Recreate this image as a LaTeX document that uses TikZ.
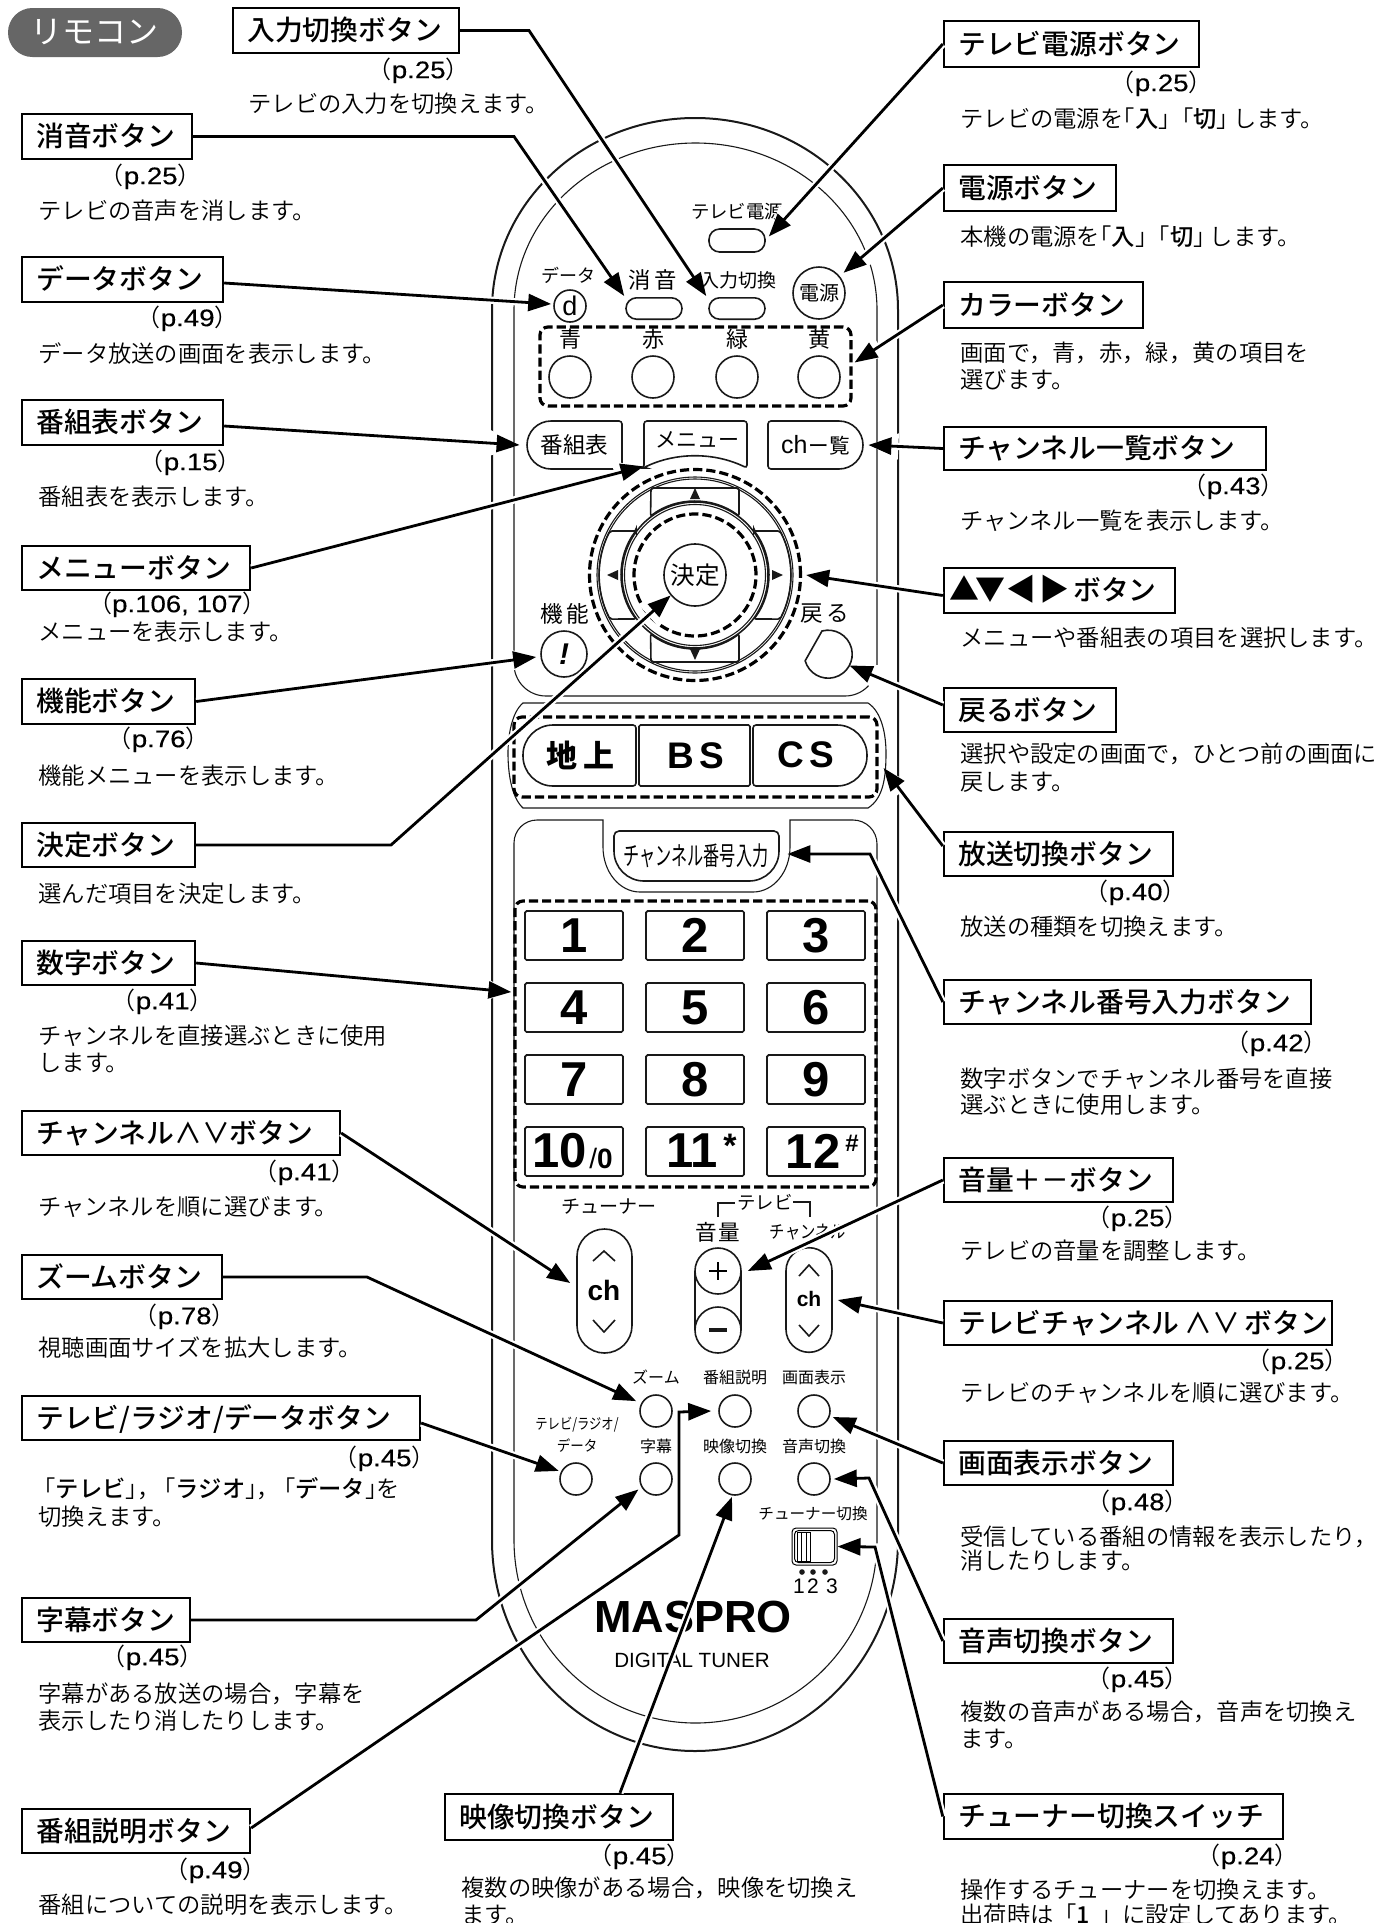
\documentclass[tikz,border=0pt]{standalone}
\usepackage{fontspec}
\usetikzlibrary{arrows.meta,calc}
\setmainfont{Noto Sans CJK JP}
\newfontfamily\jpf{Noto Sans CJK JP}
\newfontfamily\jplt{Noto Sans CJK JP DemiLight}
\newfontfamily\jpm{Noto Sans CJK JP Medium}
\newfontfamily\libf{Liberation Sans}
\newfontfamily\prf[FakeBold=.3,FakeStretch=1.15]{Liberation Sans}
\newcommand\fsz[1]{\fontsize{#1}{#1}\selectfont}
\newcommand\bbt[1]{{\jpm #1}}
\newcommand\parl{\kern-7pt{\jplt （}}
\newcommand\parr{{\jplt ）}\kern-7pt}
\newcommand\hbx[6]{%
  \node[lbox,minimum width={(#4-#2)*.5pt},minimum height={(#5-#3)*.5pt}] (#1) at ({(#2+#4)/2},{(#3+#5)/2}) {};
  \node[ltxt,anchor=west] (#1t) at ([xshift=7.5pt]#1.west) {#6};}
\newcommand\pgr[4]{\node[ptxt,anchor=east] (#1p) at (#2,#3) {\parl p.#4\parr};}
\newcommand\btx[4]{\node[dtxt,anchor=west] (#1) at (#2,#3) {#4};}
\tikzset{
 lbox/.style={draw,line width=1.2pt,inner sep=0pt,fill=white},
 ltxt/.style={inner sep=0pt,font=\jpm\fsz{13.9},text height=12pt,text depth=1.7pt},
 ptxt/.style={inner sep=0pt,font=\prf\fsz{12},text height=8.6pt,text depth=2.4pt},
 dtxt/.style={inner sep=0pt,font=\jplt\fsz{11.65},text height=10pt,text depth=1.4pt},
 lead/.style={line width=1.4pt,-{Triangle[length=11.5pt,width=8.5pt]},
   preaction={draw=white,line width=3.6pt,arrows=-{Triangle[length=15pt,width=12pt]}}},
 bl/.style={line width=.8pt,draw=black!90},
 thin1/.style={line width=.55pt,draw=black!90},
 outerl/.style={line width=1pt,draw=black!90},
 btnc/.style={circle,bl,draw,inner sep=0pt},
 pill/.style={rectangle,bl,draw,inner sep=0pt,rounded corners=5.3pt,minimum width=28pt,minimum height=10.7pt},
 hit/.style={rectangle,inner sep=0pt},
 dashb/.style={line width=1.6pt,draw,dash pattern=on 4.6pt off 2pt,rounded corners=4pt,inner sep=0pt},
 key/.style={rectangle,bl,draw,inner sep=0pt,rounded corners=.8pt,minimum width=49pt,minimum height=24.5pt},
 numk/.style={inner sep=0pt,font=\libf\bfseries\fsz{24.5}},
 rl/.style={inner sep=0pt,font=\jpf},
 tri/.style={fill=black!90,draw=none},
}
\begin{document}
\begin{tikzpicture}[x=.5pt,y=-.5pt]
\useasboundingbox (0,0) rectangle (1393,1923);
\fill[white] (0,0) rectangle (1393,1923);
% --- remote body
\draw[outerl] (492,310) arc[start angle=180,end angle=360,x radius=203,y radius=192] -- (898,1540) arc[start angle=0,end angle=180,x radius=203,y radius=211] -- cycle;
\draw[thin1] (514,664) -- (514,310) arc[start angle=180,end angle=360,x radius=181.5,y radius=167] -- (877,664) arc[start angle=0,end angle=90,radius=32] -- (546,696) arc[start angle=90,end angle=180,radius=32];
\draw[thin1] (523,703) -- (868,703) .. controls (882,712) and (886,735) .. (886,753) .. controls (886,775) and (884,798) .. (868,808) -- (523,808) .. controls (512,798) and (508,775) .. (508,753) .. controls (508,735) and (512,712) .. (523,703) -- cycle;
\draw[thin1] (514,1540) -- (514,843) arc[start angle=180,end angle=270,radius=23] -- (603,820) -- (603,847) arc[start angle=180,end angle=90,x radius=37,y radius=45] -- (753,892) arc[start angle=90,end angle=0,x radius=37,y radius=45] -- (790,820) -- (853,820) arc[start angle=270,end angle=360,radius=24] -- (877,1540) arc[start angle=0,end angle=180,x radius=181.5,y radius=183];
% top buttons
\node[rl,font=\jpf\fsz{9}] (ldata) at (568,275) {データ};
\node[btnc,minimum size=16pt] (bd) at (570,306) {\libf\fsz{13.5}d};
\node[rl,font=\jpf\fsz{11.2}] (lmute) at (653,280) {消\kern2pt 音};
\node[pill] (bmute) at (654,308.5) {};
\node[rl,font=\jpf\fsz{9.5}] (linp) at (738,280) {入力切換};
\node[pill] (binp) at (737,308.5) {};
\node[rl,font=\jpf\fsz{9.2}] (ltvp) at (737,212) {テレビ電源};
\node[pill,minimum height=11.5pt] (btvp) at (737,240.5) {};
\node[btnc,minimum size=26pt] (bpow) at (819,293) {\jpf\fsz{10}電源};
% colour
\node[dashb,minimum width=155.5pt,minimum height=39.5pt] (gcol) at (695.5,366.5) {};
\foreach \n/\t/\x in {a/青/570,b/赤/653,c/緑/737,d/黄/819}{
  \node[rl,font=\jpf\fsz{11}] (lc\n) at (\x,339) {\t};
  \node[btnc,minimum size=21pt] (bc\n) at (\x,377) {};
}
% menu row
\node[hit,minimum width=47.5pt,minimum height=24pt] (bprog) at (574.5,445) {\jpf\fsz{11.3}番組表};
\draw[bl] [rounded corners=1.5pt] (575,469) -- (622,469) -- (622,421) [rounded corners=12pt] -- (527,421) -- (527,469) -- (575,469);
\node[hit,minimum width=51.5pt,minimum height=22.5pt] (bmenu) at (695.5,443.5) {};
\node[rl,font=\jpf\fsz{10.5}] (tmenu) at (697,440) {メニュー};
\draw[bl,rounded corners=1.5pt] (644,468) -- (644,421) -- (747,421) -- (747,468) arc[start angle=-64.1,end angle=-115.9,radius=119] -- cycle;
\node[hit,minimum width=47.5pt,minimum height=24pt] (bch) at (815.5,445) {\libf\fsz{12.5}ch\jpf\kern.5pt\fsz{10.3}ー覧};
\draw[bl] [rounded corners=1.5pt] (815,469) -- (768,469) -- (768,421) [rounded corners=12pt] -- (863,421) -- (863,469) -- (815,469);
% dpad
\node[circle,draw,line width=1.6pt,dash pattern=on 4.6pt off 2pt,inner sep=0,minimum size=105.5pt] (gpad) at (695,575) {};
\node[circle,thin1,draw,inner sep=0,minimum size=98pt] (rpad1) at (695,575) {};
\draw[thin1] (695,575) circle[radius=96];
\draw[bl] (695,575) circle[radius=73];
\draw[thin1] (695,575) circle[radius=70.5];
\node[circle,draw,line width=1.6pt,dash pattern=on 4.6pt off 2pt,inner sep=0,minimum size=61pt] (gok) at (695,575) {};
\node[btnc,minimum size=31pt] (bok) at (695,575) {\jpf\fsz{12.3}決定};
\draw[bl,rounded corners=1pt] (651,488) -- (739,488) -- (739,516) arc[start angle=-53.3,end angle=-126.7,radius=74] -- cycle;
\draw[bl,rounded corners=1pt] (651,662) -- (739,662) -- (739,634) arc[start angle=53.3,end angle=126.7,radius=74] -- cycle;
\draw[bl,rounded corners=1pt] (636,531) -- (610,531) arc[start angle=207.3,end angle=152.7,radius=96] -- (636,619) arc[start angle=143.3,end angle=216.7,radius=74] -- cycle;
\draw[bl,rounded corners=1pt] (754,531) -- (780,531) arc[start angle=-27.3,end angle=27.3,radius=96] -- (754,619) arc[start angle=36.7,end angle=-36.7,radius=74] -- cycle;
\fill[tri] (695,488) -- (700,499) -- (690,499) -- cycle;
\fill[tri] (695,660) -- (700,649) -- (690,649) -- cycle;
\fill[tri] (607,575) -- (618,570) -- (618,580) -- cycle;
\fill[tri] (783,575) -- (772,570) -- (772,580) -- cycle;
% func / back
\node[rl,font=\jpf\fsz{11.3}] (lfunc) at (565,614) {機\kern2pt 能};
\node[btnc,minimum size=23pt] (bfunc) at (564,654) {\libf\bfseries\itshape\fsz{15}!};
\node[rl,font=\jpf\fsz{11.3}] (lback) at (825,614) {戻\kern2pt る};
\node[hit,circle,minimum size=24pt] (bback) at (828,654) {};
\draw[bl] (822,631) arc[start angle=255,end angle=524,radius=24] -- cycle;
% broadcast
\node[dashb,minimum width=181.5pt,minimum height=40pt] (gbc) at (695.5,757) {};
\node[hit,minimum width=56pt,minimum height=30.5pt] (b1t) at (580.5,755.5) {\jpf\bfseries\fsz{15.5}地\kern3pt 上};
\draw[bl] [rounded corners=1.5pt] (580,786) -- (636,786) -- (636,725) [rounded corners=15pt] -- (523,725) -- (523,786) -- (580,786);
\node[key,minimum width=55.5pt,minimum height=30.5pt] (b2t) at (694.5,755.5) {\libf\bfseries\fsz{18.5}\kern1pt B\kern2.5pt S};
\node[hit,minimum width=57pt,minimum height=30.5pt] (b3t) at (810,755.5) {};
\node[rl,font=\libf\bfseries\fsz{18.5}] (b3l) at (806,755) {C\kern2.5pt S};
\draw[bl] [rounded corners=1.5pt] (810,786) -- (753,786) -- (753,725) [rounded corners=15pt] -- (867,725) -- (867,786) -- (810,786);
% ch number input
\node[hit,minimum width=82.5pt,minimum height=25pt] (bcni) at (696.5,856) {};
\node[rl,font=\jpf\fsz{13},xscale=.62,transform shape] (tcni) at (696,856) {チャンネル番号入力};
\draw[bl] (614,836) arc[start angle=180,end angle=270,radius=5] -- (774,831) arc[start angle=270,end angle=360,radius=5] -- (779,851) arc[start angle=0,end angle=90,x radius=30,y radius=30] -- (644,881) arc[start angle=90,end angle=180,x radius=30,y radius=30] -- cycle;
% number keys
\node[dashb,minimum width=180.5pt,minimum height=143pt] (gnum) at (695.5,1044) {};
\foreach \r/\y/\a/\b/\c in {1/935.5/1/2/3,2/1007.5/4/5/6,3/1079.5/7/8/9}{
  \node[key] (k\r a) at (574,\y) {};
  \node[key] (k\r b) at (695,\y) {};
  \node[key] (k\r c) at (816,\y) {};
  \node[numk] (n\r a) at (574,\y) {\a};
  \node[numk] (n\r b) at (695,\y) {\b};
  \node[numk] (n\r c) at (816,\y) {\c};
}
\node[key] (k4a) at (574,1151.5) {};
\node[key] (k4b) at (695,1151.5) {};
\node[key] (k4c) at (816,1151.5) {};
\node[numk] (n4a) at (560,1151) {10};
\node[inner sep=0,font=\libf\fsz{14}] (n4a2) at (601,1158) {/\libf\bfseries 0};
\node[numk] (n4b) at (692,1151) {11};
\node[inner sep=0,font=\libf\bfseries\fsz{17}] (n4b2) at (730,1146) {*};
\node[numk] (n4c) at (813,1151) {12};
\node[inner sep=0,font=\libf\bfseries\fsz{12}] (n4c2) at (852,1143) {\#};
% tuner / tv labels
\node[rl,font=\jpf\fsz{9.5}] (ltun) at (609,1207) {チューナー};
\node[rl,font=\jpf\fsz{9.2}] (ltv) at (765,1202) {テレビ};
\draw[bl,line width=1pt] (718,1217) -- (718,1203) -- (735,1203);
\draw[bl,line width=1pt] (793,1202) -- (810,1202) -- (810,1217);
\node[rl,font=\jpf\fsz{10.8}] (lvol) at (718,1232) {音\kern1pt 量};
\node[rl,font=\jpf\fsz{9},xscale=.85,transform shape] (ltch) at (808,1232) {チャンネル};
% tuner ch
\node[pill,rounded corners=13.7pt,minimum width=27.5pt,minimum height=62pt] (btch) at (604.5,1291) {};
\node[rl,font=\libf\bfseries\fsz{14}] (ttch) at (604,1290) {ch};
\draw[bl] (593,1261) -- (604,1251) -- (615,1261);
\draw[bl] (593,1320) -- (604,1332) -- (615,1320);
% volume
\draw[bl] (695,1271) -- (695,1330);
\draw[bl] (741,1271) -- (741,1330);
\node[btnc,fill=white,minimum size=23pt] (bvp) at (718,1271) {};
\node[btnc,fill=white,minimum size=23pt] (bvm) at (718,1330) {};
\draw[line width=1pt] (709,1271) -- (727,1271) (718,1262) -- (718,1280);
\fill[black!90] (709,1328) rectangle (727,1332);
% tv ch
\node[pill,rounded corners=11.5pt,minimum width=23pt,minimum height=52.3pt] (btvc) at (809,1300) {};
\node[rl,font=\libf\bfseries\fsz{10.5}] (ttvc) at (809,1299) {ch};
\draw[bl] (799,1276) -- (809,1265) -- (819,1276);
\draw[bl] (799,1325) -- (809,1336) -- (819,1325);
% small buttons
\node[rl,font=\jpf\fsz{8}] (l1) at (656,1377) {ズーム};
\node[rl,font=\jpf\fsz{8}] (l2) at (735,1377) {番組説明};
\node[rl,font=\jpf\fsz{8}] (l3) at (814,1377) {画面表示};
\node[rl,font=\jpf\fsz{8}] (l4) at (656,1446) {字幕};
\node[rl,font=\jpf\fsz{8}] (l5) at (735,1446) {映像切換};
\node[rl,font=\jpf\fsz{8}] (l6) at (814,1446) {音声切換};
\node[rl,font=\jpf\fsz{7.5},xscale=.82,transform shape] (l7) at (577,1425) {テレビ/ラジオ/};
\node[rl,font=\jpf\fsz{7.5},xscale=.9,transform shape] (l8) at (577,1446) {データ};
\node[btnc,minimum size=16pt] (bzoom) at (656,1411) {};
\node[btnc,minimum size=16pt] (bdesc) at (735,1411) {};
\node[btnc,minimum size=16pt] (bdisp) at (814,1411) {};
\node[btnc,minimum size=16pt] (bradio) at (576,1479) {};
\node[btnc,minimum size=16pt] (bsub) at (656,1479) {};
\node[btnc,minimum size=16pt] (bvid) at (735,1479) {};
\node[btnc,minimum size=16pt] (baud) at (814,1479) {};
% switch
\node[rl,font=\jpf\fsz{7.8}] (lsw) at (813,1514) {チューナー切換};
\node[rectangle,draw,line width=.5pt,rounded corners=2pt,inner sep=0,minimum width=22.5pt,minimum height=18.5pt] (bsw) at (814.5,1546.5) {};
\draw[line width=.5pt,rounded corners=2pt] (794.5,1530.5) rectangle (834.5,1562.5);
\draw[line width=.5pt] (797,1532) rectangle (810,1561) (801,1532) -- (801,1561) (806,1532) -- (806,1561);
\fill[black!90] (802,1572) circle[radius=2.8] (813,1572) circle[radius=2.8] (825,1572) circle[radius=2.8];
\node[rl,font=\libf\fsz{10.5}] (n1) at (799,1586) {1};
\node[rl,font=\libf\fsz{10.5}] (n2) at (813,1586) {2};
\node[rl,font=\libf\fsz{10.5}] (n3) at (832,1586) {3};
% logo
\node[rl,font=\libf\bfseries\fsz{22.5}] (logo) at (693,1617) {MASPRO};
\node[rl,font=\libf\fsz{10.3}] (dtun) at (692,1660) {DIGITAL TUNER};
% --- heading pill
\node[fill=black!60,rounded corners=12.2pt,minimum width=87pt,minimum height=24.5pt,inner sep=0,font=\jpf\fsz{16},text=white] (title) at (95,32.5) {リモコン};
% --- left labels
\hbx{aInp}{233}{8}{459}{53}{入力切換ボタン}
\pgr{aInp}{456}{72}{25}
\btx{aInpb}{248}{104}{テレビの入力を切換えます。}
\hbx{aMute}{22}{114}{192}{159}{消音ボタン}
\pgr{aMute}{188}{178}{25}
\btx{aMuteb}{38}{211}{テレビの音声を消します。}
\hbx{aData}{22}{257}{223}{302}{データボタン}
\pgr{aData}{225}{320}{49}
\btx{aDatab}{38}{354}{データ放送の画面を表示します。}
\hbx{aProg}{22}{400}{223}{445}{番組表ボタン}
\pgr{aProg}{228}{464}{15}
\btx{aProgb}{38}{497}{番組表を表示します。}
\hbx{aMenu}{22}{546}{250}{590}{メニューボタン}
\node[ptxt,anchor=east] (aMenup) at (253,606) {\parl p.106, 107\parr};
\btx{aMenub}{38}{632}{メニューを表示します。}
\hbx{aFunc}{22}{679}{195}{724}{機能ボタン}
\pgr{aFunc}{196}{741}{76}
\btx{aFuncb}{38}{776}{機能メニューを表示します。}
\hbx{aOk}{22}{823}{195}{867}{決定ボタン}
\btx{aOkb}{38}{894}{選んだ項目を決定します。}
\hbx{aNum}{22}{941}{195}{985}{数字ボタン}
\pgr{aNum}{200}{1003}{41}
\btx{aNumb}{38}{1036}{チャンネルを直接選ぶときに使用}
\btx{aNumc}{38}{1063}{します。}
\hbx{aCh}{22}{1111}{340}{1155}{チャンネル∧∨ボタン}
\pgr{aCh}{342}{1174}{41}
\btx{aChb}{38}{1207}{チャンネルを順に選びます。}
\hbx{aZoom}{22}{1255}{222}{1299}{ズームボタン}
\pgr{aZoom}{222}{1318}{78}
\btx{aZoomb}{38}{1348}{視聴画面サイズを拡大します。}
\hbx{aTrd}{22}{1396}{420}{1440}{テレビ/ラジオ/データボタン}
\pgr{aTrd}{422}{1460}{45}
\btx{aTrdb}{38}{1489}{\kern-.25em「\bbt{テレビ}」\kern-.5em，\kern-.35em「\bbt{ラジオ}」\kern-.5em，\kern-.35em「\bbt{データ}」\kern-.5em を}
\btx{aTrdc}{38}{1517}{切換えます。}
\hbx{aSub}{22}{1598}{190}{1642}{字幕ボタン}
\pgr{aSub}{190}{1659}{45}
\btx{aSubb}{38}{1694}{字幕がある放送の場合，字幕を}
\btx{aSubc}{38}{1721}{表示したり消したりします。}
\hbx{aDesc}{22}{1809}{250}{1853}{番組説明ボタン}
\pgr{aDesc}{253}{1872}{49}
\btx{aDescb}{38}{1905}{番組についての説明を表示します。}
\hbx{aVid}{445}{1794}{673}{1840}{映像切換ボタン}
\pgr{aVid}{677}{1858}{45}
\btx{aVidb}{461}{1888}{複数の映像がある場合，映像を切換え}
\btx{aVidc}{461}{1915}{ます。}
% --- right labels
\hbx{cTv}{944}{21}{1199}{67}{テレビ電源ボタン}
\pgr{cTv}{1199}{85}{25}
\btx{cTvb}{960}{119}{テレビの電源を\kern-.5em「\bbt{入}」\kern-.5em「\bbt{切}」\kern-.3em します。}
\hbx{cPow}{944}{165}{1116}{211}{電源ボタン}
\btx{cPowb}{960}{237}{本機の電源を\kern-.5em「\bbt{入}」\kern-.5em「\bbt{切}」\kern-.3em します。}
\hbx{cCol}{944}{282}{1143}{328}{カラーボタン}
\btx{cColb}{960}{353}{画面で，青，赤，緑，黄の項目を}
\btx{cColc}{960}{380}{選びます。}
\hbx{cList}{944}{427}{1266}{470}{チャンネル一覧ボタン}
\pgr{cList}{1271}{488}{43}
\btx{cListb}{960}{521}{チャンネル一覧を表示します。}
\hbx{cArr}{944}{568}{1175}{613}{\kern-4.5pt{\jpm\bfseries\fsz{15}▲\kern-2pt▼\kern.5pt◀\kern1.5pt▶}\kern2pt ボタン}
\btx{cArrb}{960}{638}{メニューや番組表の項目を選択します。}
\hbx{cBack}{944}{688}{1116}{732}{戻るボタン}
\btx{cBackb}{960}{754}{選択や設定の画面で，ひとつ前の画面に}
\btx{cBackc}{960}{782}{戻します。}
\hbx{cBc}{944}{832}{1173}{876}{放送切換ボタン}
\pgr{cBc}{1173}{894}{40}
\btx{cBcb}{960}{927}{放送の種類を切換えます。}
\hbx{cCni}{944}{980}{1311}{1024}{チャンネル番号入力ボタン}
\pgr{cCni}{1314}{1045}{42}
\btx{cCnib}{960}{1079}{数字ボタンでチャンネル番号を直接}
\btx{cCnic}{960}{1105}{選ぶときに使用します。}
\hbx{cVol}{944}{1158}{1173}{1202}{音量＋－ボタン}
\pgr{cVol}{1175}{1220}{25}
\btx{cVolb}{960}{1251}{テレビの音量を調整します。}
\hbx{cTvc}{944}{1301}{1332}{1345}{テレビチャンネル\,∧∨\,ボタン}
\pgr{cTvc}{1335}{1363}{25}
\btx{cTvcb}{960}{1393}{テレビのチャンネルを順に選びます。}
\hbx{cDisp}{944}{1441}{1173}{1485}{画面表示ボタン}
\pgr{cDisp}{1175}{1504}{48}
\btx{cDispb}{960}{1537}{受信している番組の情報を表示したり，}
\btx{cDispc}{960}{1561}{消したりします。}
\hbx{cAud}{944}{1619}{1173}{1663}{音声切換ボタン}
\pgr{cAud}{1175}{1681}{45}
\btx{cAudb}{960}{1712}{複数の音声がある場合，音声を切換え}
\btx{cAudc}{960}{1739}{ます。}
\hbx{cSw}{944}{1794}{1283}{1839}{チューナー切換スイッチ}
\pgr{cSw}{1285}{1858}{24}
\btx{cSwb}{960}{1890}{操作するチューナーを切換えます。}
\btx{cSwc}{960}{1915}{出荷時は「\bbt{1}\kern.38em」に設定してあります。}
% --- bends
\coordinate (kInp) at (529,30.5);
\coordinate (kMute) at (514,136.5);
\coordinate (kOk) at (391,845);
\coordinate (kZoom) at (367,1277);
\coordinate (kSub) at (476,1620);
\coordinate (kDesc1) at (679,1535);
\coordinate (kDesc2) at (679,1412);
\coordinate (kCni) at (870,854);
\coordinate (kAud) at (869,1478);
\coordinate (kSw) at (875,1547);
% --- leaders
\draw[lead] (aInp.east) -- (kInp) -- ([shift={(-1pt,.5pt)}]binp.north west);
\draw[lead] (aMute.east) -- (kMute) -- ([shift={(-.5pt,.5pt)}]bmute.north west);
\draw[lead] ([yshift=-1.75pt]aData.east) -- ([shift={(-1pt,1pt)}]bd.west);
\draw[lead] ([yshift=-1.75pt]aProg.east) -- ([xshift=-3.5pt]bprog.west);
\draw[lead] (aMenu.east) -- (bmenu.south west);
\draw[lead] (aFunc.east) -- ([shift={(-2pt,-1.5pt)}]bfunc.west);
\draw[lead] (aOk.east) -- (kOk) -- (bok.220);
\draw[lead] (aNum.east) -- ([shift={(-1pt,26pt)}]gnum.west);
\draw[lead] (aCh.east) -- ([shift={(-3pt,4pt)}]btch.west);
\draw[lead] (aZoom.east) -- (kZoom) -- ([shift={(-2.5pt,1pt)}]bzoom.152);
\draw[lead] ([yshift=-2.5pt]aTrd.east) -- ([shift={(-1pt,.5pt)}]bradio.155);
\draw[lead] (aSub.east) -- (kSub) -- ([shift={(-1.5pt,-1pt)}]bsub.210);
\draw[lead] ([yshift=1.5pt]aDesc.east) -- (kDesc1) -- (kDesc2) -- ([xshift=-3.5pt]bdesc.west);
\draw[lead] ([xshift=30.5pt]aVid.north) -- ([shift={(-1.5pt,-.5pt)}]bvid.south);
\draw[lead] (cTv.west) -- ([shift={(1.5pt,2pt)}]btvp.east);
\draw[lead] (cPow.west) -- ([shift={(2pt,1.5pt)}]bpow.40);
\draw[lead] (cCol.west) -- ([shift={(1pt,2pt)}]gcol.east);
\draw[lead] (cList.west) -- ([xshift=2.5pt]bch.east);
\draw[lead] ([yshift=-2.5pt]cArr.west) -- ([xshift=2pt]gpad.east);
\draw[lead] ([yshift=2.5pt]cBack.west) -- (bback.-28.6);
\draw[lead] ([yshift=4pt]cBc.west) -- ([shift={(2.5pt,-5.5pt)}]gbc.east);
\draw[lead] (cCni.west) -- (kCni) -- ([shift={(4pt,1pt)}]bcni.east);
\draw[lead] (cVol.west) -- ([xshift=3pt]bvp.east);
\draw[lead] (cTvc.west) -- ([xshift=2.5pt]btvc.east);
\draw[lead] (cDisp.west) -- ([xshift=1.5pt]bdisp.-21);
\draw[lead] (cAud.west) -- (kAud) -- ([xshift=1.5pt]baud.east);
\draw[lead] (cSw.west) -- (kSw) -- (bsw.east);
\end{tikzpicture}
\end{document}
